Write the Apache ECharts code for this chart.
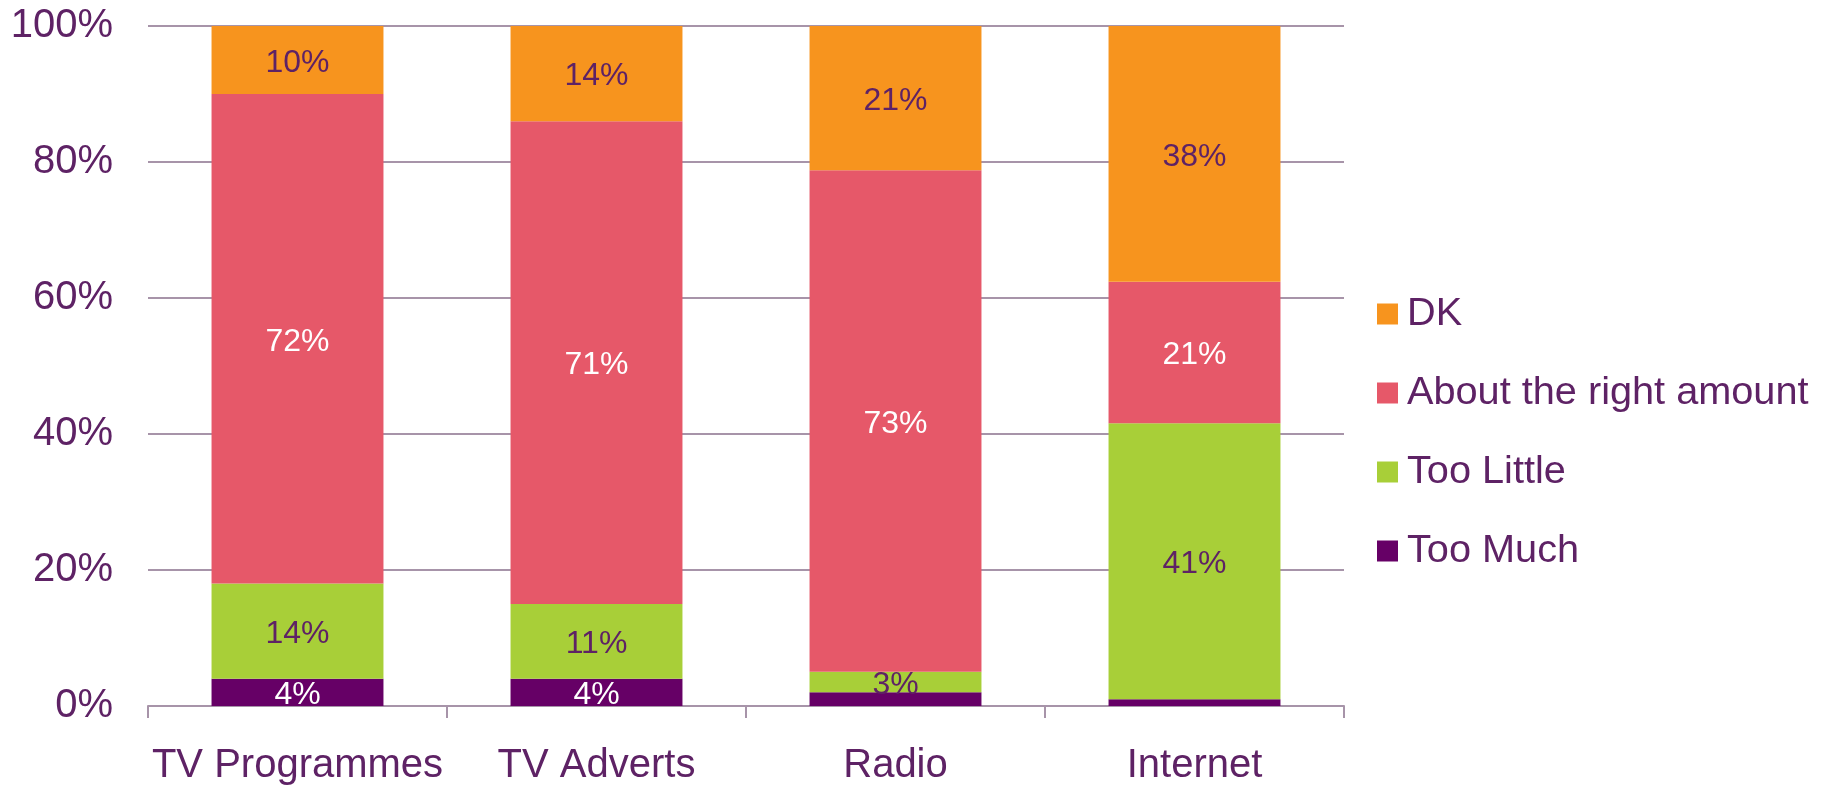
<!DOCTYPE html>
<html>
<head>
<meta charset="utf-8">
<title>Media content amount</title>
<script src="https://cdn.jsdelivr.net/npm/echarts@6/dist/echarts.min.js"></script>
<style>
  html, body { margin: 0; padding: 0; background: #ffffff; }
  #chart { width: 1825px; height: 786px; }
</style>
</head>
<body>
<div id="chart"></div>
<script>
// Categories and the share of answers (percent) for each response
const categories = ['TV Programmes', 'TV Adverts', 'Radio', 'Internet'];
const tooMuch    = [4, 4, 2, 1];
const tooLittle  = [14, 11, 3, 41];
const aboutRight = [72, 71, 73, 21];
const dontKnow   = [10, 14, 21, 38];

const seriesNames = ['Too Much', 'Too Little', 'About the right amount', 'DK'];
const legendOrder = ['DK', 'About the right amount', 'Too Little', 'Too Much'];

const TEXT = '#5E2265';
const GRID = '#A794A9';
const FONT = '"Liberation Sans", Arial, sans-serif';

// 100% stacked: each bar is scaled by the category total
const totals = categories.map((_, i) =>
  tooMuch[i] + tooLittle[i] + aboutRight[i] + dontKnow[i]);

function toItems(values) {
  return values.map((v, i) => ({ value: v / totals[i] * 100, raw: v }));
}

function makeSeries(name, values, color, labelColor) {
  return {
    name: name,
    type: 'bar',
    stack: 'total',
    barWidth: '57.5%',
    data: toItems(values),
    itemStyle: { color: color },
    label: {
      show: true,
      position: 'inside',
      offset: [0, 3],
      color: labelColor,
      fontSize: 32,
      fontFamily: FONT,
      formatter: p => (p.data.raw >= 3 ? p.data.raw + '%' : '')
    },
    emphasis: { disabled: true }
  };
}

const chart = echarts.init(document.getElementById('chart'), null, { renderer: 'canvas' });

chart.setOption({
  animation: false,
  backgroundColor: '#ffffff',
  grid: { left: 148, right: 481, top: 26, bottom: 80, outerBoundsMode: 'none', containLabel: false },
  legend: {
    data: legendOrder,
    orient: 'vertical',
    left: 1377,
    top: 294,
    padding: 0,
    itemWidth: 21,
    itemHeight: 21,
    itemGap: 39,
    icon: 'rect',
    textStyle: {
      color: TEXT,
      fontSize: 39.7,
      lineHeight: 40,
      fontFamily: FONT,
      padding: [0, 0, 0, 4]
    }
  },
  xAxis: {
    type: 'category',
    data: categories,
    axisLine: { show: true, lineStyle: { color: GRID, width: 2 } },
    axisTick: { show: true, length: 12, interval: 0, lineStyle: { color: GRID, width: 2 } },
    axisLabel: {
      color: TEXT,
      fontSize: 40,
      lineHeight: 40,
      fontFamily: FONT,
      margin: 40,
      interval: 0
    }
  },
  yAxis: {
    type: 'value',
    min: 0,
    max: 100,
    interval: 20,
    axisLine: { show: false },
    axisTick: { show: false },
    splitLine: { show: true, lineStyle: { color: GRID, width: 2 } },
    axisLabel: {
      color: TEXT,
      fontSize: 40,
      fontFamily: FONT,
      margin: 35,
      padding: [6, 0, 0, 0],
      formatter: '{value}%'
    }
  },
  series: [
    makeSeries(seriesNames[0], tooMuch, '#660066', '#ffffff'),
    makeSeries(seriesNames[1], tooLittle, '#A8CF38', TEXT),
    makeSeries(seriesNames[2], aboutRight, '#E65869', '#ffffff'),
    makeSeries(seriesNames[3], dontKnow, '#F7941E', TEXT)
  ]
});
</script>
</body>
</html>
